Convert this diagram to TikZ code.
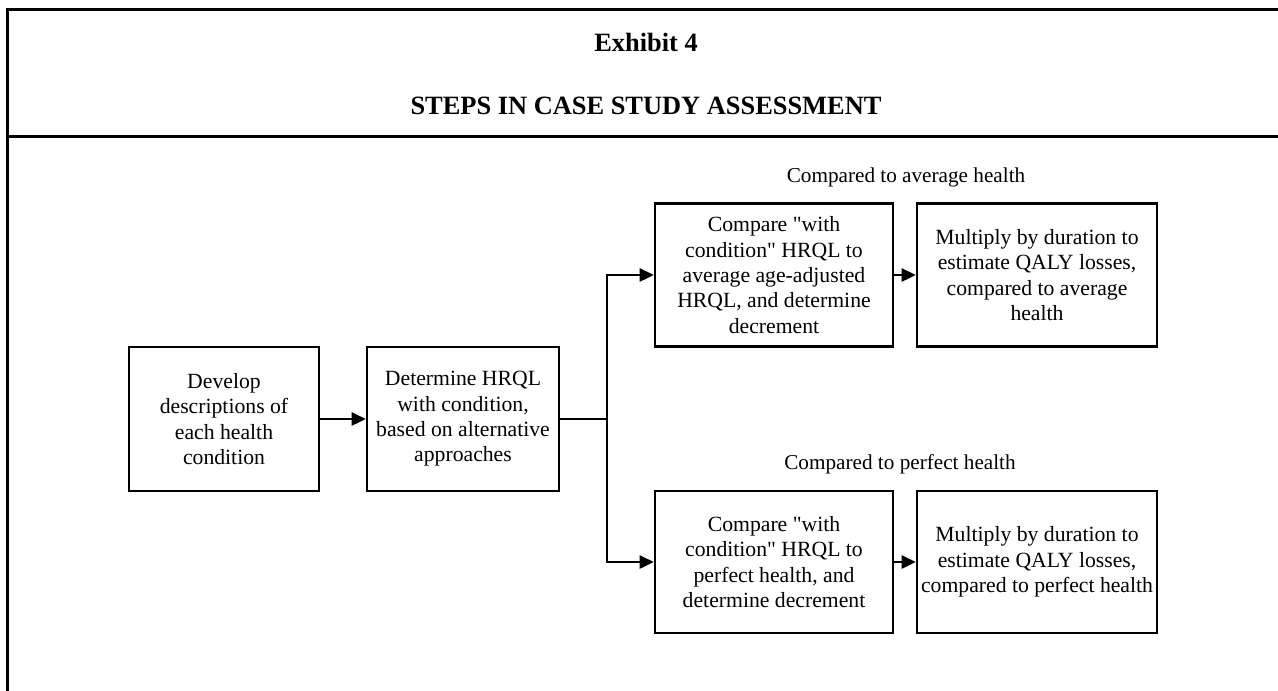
\documentclass[tikz,border=0pt]{standalone}
\usepackage{fontspec}
\setmainfont[Ligatures=TeXOff]{Liberation Serif}
\usetikzlibrary{arrows.meta}
\begin{document}
\begin{tikzpicture}[x=0.5pt,y=-0.5pt,
  frameline/.style={line width=1.5pt},
  stepbox/.style={draw,line width=1.3pt,align=center,inner xsep=0pt,inner ysep=2pt,
    font=\fontsize{10.85}{12.65}\selectfont},
  conn/.style={line width=1.3pt},
  arr/.style={line width=1.3pt,-{Triangle[length=7pt,width=6.5pt]}},
  caption/.style={anchor=base,inner sep=0pt,font=\fontsize{10.6}{12.6}\selectfont},
  titletext/.style={anchor=base,inner sep=0pt,font=\fontsize{13.2}{15}\selectfont\bfseries}]
\useasboundingbox (0,0) rectangle (1278,690);
% frame
\draw[frameline] (1290,10) -- (7,10) -- (7,700);
\draw[frameline] (7,136) -- (1290,136);
% titles
\node[titletext] (t1) at (646,52) {Exhibit 4};
\node[titletext] (t2) at (646,114) {STEPS IN CASE STUDY ASSESSMENT};
% boxes
\node[stepbox,minimum width=95pt,minimum height=72pt] (b1) at (224,419)
  {Develop\\descriptions of\\each health\\condition};
\node[stepbox,minimum width=96pt,minimum height=72pt] (b2) at (463,419)
  {Determine HRQL\\with condition,\\based on alternative\\approaches};
\node[stepbox,minimum width=119pt,minimum height=71.5pt] (b3) at (774,275)
  {Compare "with\\condition" HRQL to\\average age-adjusted\\HRQL, and determine\\decrement};
\node[stepbox,minimum width=120pt,minimum height=71.5pt] (b4) at (1037,275)
  {Multiply by duration to\\estimate QALY losses,\\compared to average\\health};
\node[stepbox,minimum width=119pt,minimum height=71pt] (b5) at (774,562)
  {Compare "with\\condition" HRQL to\\perfect health, and\\determine decrement};
\node[stepbox,minimum width=120pt,minimum height=71pt] (b6) at (1037,562)
  {Multiply by duration to\\estimate QALY losses,\\compared to perfect health};
% captions
\node[caption] (c1) at (906,182) {Compared to average health};
\node[caption] (c2) at (900,469) {Compared to perfect health};
% connectors
\coordinate (j) at (607,419);
\draw[arr] (b1) -- (b2);
\draw[conn] (b2.east) -- (j);
\draw[arr] (j) |- (b3.west);
\draw[arr] (j) |- (b5.west);
\draw[arr] (b3) -- (b4);
\draw[arr] (b5) -- (b6);
\end{tikzpicture}
\end{document}
